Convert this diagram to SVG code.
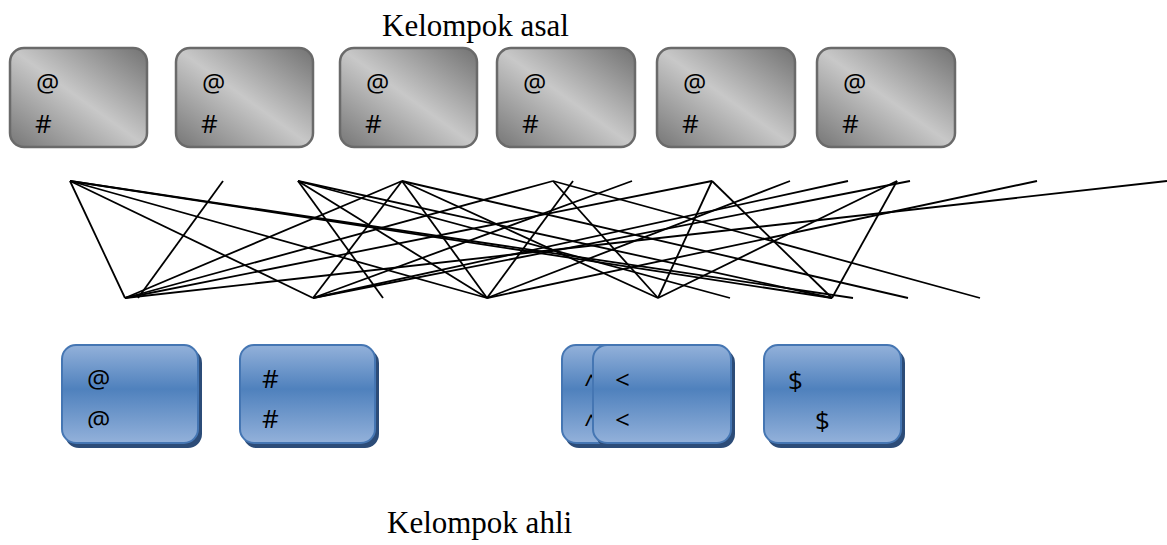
<svg xmlns="http://www.w3.org/2000/svg" width="1167" height="545" viewBox="0 0 1167 545">
<defs>
<linearGradient id="gray" x1="0" y1="1" x2="1" y2="0">
<stop offset="0" stop-color="#767676"/>
<stop offset="0.5" stop-color="#c8c8c8"/>
<stop offset="1" stop-color="#727272"/>
</linearGradient>
<linearGradient id="blue" x1="0" y1="0" x2="0" y2="1">
<stop offset="0" stop-color="#93b1da"/>
<stop offset="0.45" stop-color="#4f81bd"/>
<stop offset="1" stop-color="#93b1da"/>
</linearGradient>
<clipPath id="clipA"><rect x="60" y="340" width="150" height="88"/></clipPath>
</defs>
<style>
.top{fill:url(#gray);stroke:#6a6a6a;stroke-width:2.5}
.bot{fill:url(#blue);stroke:#4576b3;stroke-width:2}
.shd{fill:#2c4c78}
.t{font-family:"Open Sans","Noto Sans",sans-serif;font-size:26px;fill:#000}
.lbl{font-family:"Liberation Serif","Times New Roman",serif;font-size:31px;fill:#000}
#connectors line{stroke:#000;stroke-width:1.8}
</style>
<rect width="1167" height="545" fill="#fff"/>
<text class="lbl" x="382" y="36">Kelompok asal</text>
<text class="lbl" x="387" y="533">Kelompok ahli</text>

<g id="home1"><rect class="top" x="10" y="48" width="137" height="99" rx="14"/><text class="t" x="36" y="92">@</text><text class="t" x="35" y="133">#</text></g>
<g id="home2"><rect class="top" x="176" y="48" width="137" height="99" rx="14"/><text class="t" x="202" y="92">@</text><text class="t" x="201" y="133">#</text></g>
<g id="home3"><rect class="top" x="340" y="48" width="137" height="99" rx="14"/><text class="t" x="366" y="92">@</text><text class="t" x="365" y="133">#</text></g>
<g id="home4"><rect class="top" x="497" y="48" width="138" height="99" rx="14"/><text class="t" x="523" y="92">@</text><text class="t" x="522" y="133">#</text></g>
<g id="home5"><rect class="top" x="657" y="48" width="138" height="99" rx="14"/><text class="t" x="683" y="92">@</text><text class="t" x="682" y="133">#</text></g>
<g id="home6"><rect class="top" x="817" y="48" width="138" height="99" rx="14"/><text class="t" x="843" y="92">@</text><text class="t" x="842" y="133">#</text></g>

<g id="connectors">
<line x1="70" y1="181" x2="125" y2="298"/>
<line x1="70" y1="181" x2="313" y2="298"/>
<line x1="70" y1="181" x2="487" y2="298"/>
<line x1="70" y1="181" x2="832" y2="298"/>
<line x1="70" y1="181" x2="853" y2="298"/>
<line x1="223" y1="181" x2="138" y2="298"/>
<line x1="298" y1="181" x2="383" y2="298"/>
<line x1="298" y1="181" x2="487" y2="298"/>
<line x1="298" y1="181" x2="730" y2="298"/>
<line x1="298" y1="181" x2="832" y2="298"/>
<line x1="402" y1="181" x2="125" y2="298"/>
<line x1="402" y1="181" x2="313" y2="298"/>
<line x1="402" y1="181" x2="487" y2="298"/>
<line x1="402" y1="181" x2="658" y2="298"/>
<line x1="402" y1="181" x2="908" y2="298"/>
<line x1="553" y1="181" x2="125" y2="298"/>
<line x1="553" y1="181" x2="658" y2="298"/>
<line x1="553" y1="181" x2="980" y2="298"/>
<line x1="573" y1="181" x2="487" y2="298"/>
<line x1="632" y1="181" x2="313" y2="298"/>
<line x1="712" y1="181" x2="125" y2="298"/>
<line x1="712" y1="181" x2="658" y2="298"/>
<line x1="712" y1="181" x2="832" y2="298"/>
<line x1="790" y1="181" x2="487" y2="298"/>
<line x1="848" y1="181" x2="313" y2="298"/>
<line x1="897" y1="181" x2="658" y2="298"/>
<line x1="897" y1="181" x2="832" y2="298"/>
<line x1="910" y1="181" x2="313" y2="298"/>
<line x1="1037" y1="181" x2="487" y2="298"/>
<line x1="1167" y1="181" x2="125" y2="298"/>
</g>

<g id="expert1"><rect class="shd" x="65" y="349" width="137" height="99" rx="14"/><rect class="bot" x="62" y="345" width="136" height="98" rx="14"/><text class="t" x="87" y="388">@</text><text class="t" x="87" y="429" clip-path="url(#clipA)">@</text></g>
<g id="expert2"><rect class="shd" x="243" y="349" width="136" height="99" rx="14"/><rect class="bot" x="240" y="345" width="135" height="98" rx="14"/><text class="t" x="262" y="388">#</text><text class="t" x="262" y="428">#</text></g>
<g id="expert3"><rect class="shd" x="565" y="349" width="137" height="99" rx="14"/><rect class="bot" x="562" y="345" width="137" height="98" rx="14"/><text class="t" x="584" y="393">^</text><text class="t" x="584" y="433">^</text></g>
<g id="expert4"><rect class="shd" x="596" y="349" width="139" height="99" rx="14"/><rect class="bot" x="593" y="345" width="138" height="98" rx="14"/><text class="t" x="615" y="389">&lt;</text><text class="t" x="615" y="429">&lt;</text></g>
<g id="expert5"><rect class="shd" x="767" y="349" width="138" height="99" rx="14"/><rect class="bot" x="764" y="345" width="137" height="98" rx="14"/><text class="t" x="788" y="390">$</text><text class="t" x="815" y="430">$</text></g>
</svg>
